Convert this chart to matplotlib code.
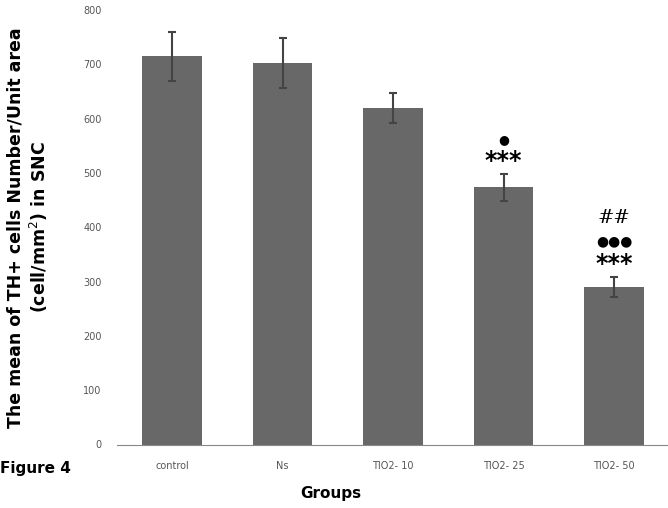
import numpy as np
import matplotlib.pyplot as plt

groups = ["control", "Ns", "TIO2- 10", "TIO2- 25", "TIO2- 50"]
means = [715, 702, 620, 474, 290]
errs = [45, 46, 27, 25, 18]

fig = plt.figure(figsize=(6.68, 5.08), dpi=100)
ax = fig.add_axes([0.175, 0.125, 0.827, 0.855])

x = np.arange(len(groups))
ax.bar(x, means, width=0.54, color="#686868", yerr=errs,
       error_kw=dict(ecolor="#444444", elinewidth=1.5, capsize=3, capthick=1.5))

# significance marks
ax.text(x[3], 498 + 2, "***", ha="center", va="bottom", fontsize=17, fontweight="bold")
ax.text(x[3], 498 + 52, "\u25cf", ha="center", va="bottom", fontsize=9)
ax.text(x[4], 308 + 2, "***", ha="center", va="bottom", fontsize=17, fontweight="bold")
ax.text(x[4], 308 + 54, "\u25cf\u25cf\u25cf", ha="center", va="bottom", fontsize=10)
ax.text(x[4], 308 + 92, "##", ha="center", va="bottom", fontsize=14, family="DejaVu Serif")

ax.set_xlim(-0.5, 4.5)
ax.set_ylim(0, 800)
ax.set_yticks(np.arange(0, 801, 100))
ax.set_xticks(x)
ax.set_xticklabels(groups)
ax.tick_params(axis="both", length=0, labelsize=7, labelcolor="#555555")
ax.tick_params(axis="y", pad=11)
ax.tick_params(axis="x", pad=12)
for s in ["top", "right", "left"]:
    ax.spines[s].set_visible(False)
ax.spines["bottom"].set_color("#888888")

ax.set_ylabel("The mean of TH+ cells Number/Unit area\n(cell/mm$^2$) in SNC",
              fontsize=12.5, fontweight="bold")
ax.yaxis.set_label_coords(-0.121, 0.5)
fig.text(0.495, 0.02, "Groups", fontsize=11, fontweight="bold", ha="center")
fig.text(0.0, 0.068, "Figure 4", fontsize=11, fontweight="bold", ha="left")

fig.savefig("out.png", dpi=100)
